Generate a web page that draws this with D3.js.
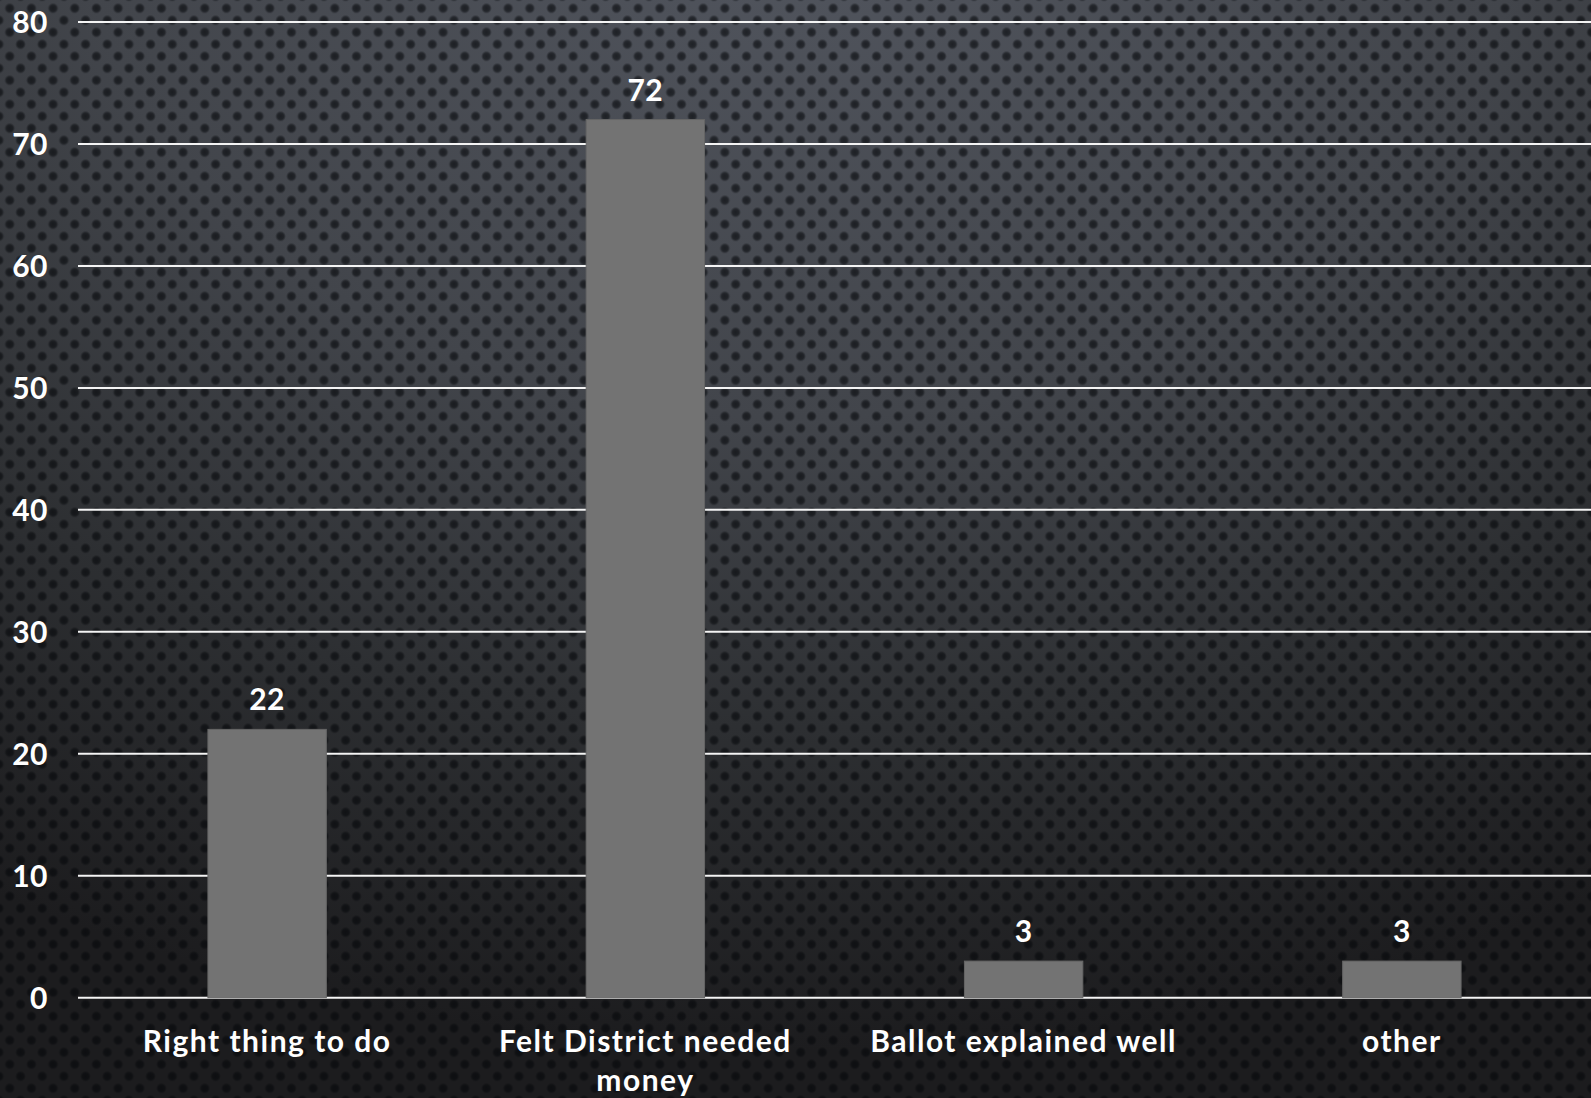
<!DOCTYPE html>
<html>
<head>
<meta charset="utf-8">
<script src="https://cdn.jsdelivr.net/npm/d3@7"></script>
<style>
  html, body { margin: 0; padding: 0; background: #1e1e20; overflow: hidden; }
  svg { display: block; }
  text { font-family: "Lato", "Noto Sans", sans-serif; font-weight: 700; fill: #ffffff; }
</style>
</head>
<body>
<div id="chart"></div>
<script>
// ---- data ----
const categories = ["Right thing to do", "Felt District needed money", "Ballot explained well", "other"];
const values = [22, 72, 3, 3];
const yTicks = [0, 10, 20, 30, 40, 50, 60, 70, 80];
const yMax = 80;

// ---- layout ----
const W = 1591, H = 1098;
const plot = { left: 78, right: 1591, top: 22, bottom: 997.7 };

const svg = d3.select("#chart").append("svg").attr("width", W).attr("height", H);
const defs = svg.append("defs");

// background gradient
const rg = defs.append("radialGradient")
  .attr("id", "bg").attr("gradientUnits", "userSpaceOnUse")
  .attr("cx", 800).attr("cy", -100).attr("r", 1150)
  .attr("gradientTransform", "translate(800,-100) scale(1.39,1) translate(-800,100)");
[[0, "#52565f"], [0.45, "#42454b"], [0.72, "#2d2f32"], [1, "#1c1c1e"]].forEach(([o, c]) =>
  rg.append("stop").attr("offset", o).attr("stop-color", c));

// dot gradient
const dg = defs.append("radialGradient").attr("id", "dot");
dg.append("stop").attr("offset", 0).attr("stop-color", "#05070a").attr("stop-opacity", 0.65);
dg.append("stop").attr("offset", 0.6).attr("stop-color", "#05070a").attr("stop-opacity", 0.55);
dg.append("stop").attr("offset", 1).attr("stop-color", "#05070a").attr("stop-opacity", 0);

const pw = 21.67, ph = 24;
const pat = defs.append("pattern").attr("id", "dots").attr("patternUnits", "userSpaceOnUse")
  .attr("x", 4.3).attr("y", 2.3).attr("width", pw).attr("height", ph);
[[pw / 4, ph / 4], [pw * 3 / 4, ph * 3 / 4]].forEach(([cx, cy]) =>
  pat.append("circle").attr("cx", cx).attr("cy", cy).attr("r", 5.4).attr("fill", "url(#dot)"));

svg.append("rect").attr("width", W).attr("height", H).attr("fill", "url(#bg)");
svg.append("rect").attr("width", W).attr("height", H).attr("fill", "url(#dots)");

// scales
const x = d3.scaleBand().domain(categories).range([plot.left, plot.right])
  .paddingInner(0.687).paddingOuter(0.3435);
const y = d3.scaleLinear().domain([0, yMax]).range([plot.bottom, plot.top]);

// gridlines
svg.append("g").selectAll("line").data(yTicks).join("line")
  .attr("x1", plot.left).attr("x2", plot.right)
  .attr("y1", d => y(d)).attr("y2", d => y(d))
  .attr("stroke", "#f4f4f4").attr("stroke-width", 2);

// y tick labels
svg.append("g").selectAll("text").data(yTicks).join("text")
  .attr("x", 48).attr("y", d => y(d)).attr("dy", "0.36em")
  .attr("text-anchor", "end").attr("font-size", 30).attr("letter-spacing", 0.5)
  .text(d => d);

// bars
svg.append("g").selectAll("rect").data(values).join("rect")
  .attr("x", (d, i) => x(categories[i]))
  .attr("width", x.bandwidth())
  .attr("y", d => y(d))
  .attr("height", d => y(0) - y(d))
  .attr("fill", "#737373")
  .attr("stroke", "#666").attr("stroke-width", 1);

// value labels
svg.append("g").selectAll("text").data(values).join("text")
  .attr("x", (d, i) => x(categories[i]) + x.bandwidth() / 2)
  .attr("y", d => y(d) - 19)
  .attr("text-anchor", "middle").attr("font-size", 30).attr("letter-spacing", 0.5)
  .text(d => d);

// category labels with wrapping
const maxW = 350;
const catG = svg.append("g");
categories.forEach(c => {
  const cx = x(c) + x.bandwidth() / 2;
  const t = catG.append("text")
    .attr("x", cx).attr("y", 1052)
    .attr("text-anchor", "middle").attr("font-size", 30).attr("letter-spacing", 1.5);
  const words = c.split(" ");
  let line = [];
  let ts = t.append("tspan").attr("x", cx).attr("dy", 0);
  words.forEach(w => {
    line.push(w);
    ts.text(line.join(" "));
    if (ts.node().getComputedTextLength() > maxW && line.length > 1) {
      line.pop();
      ts.text(line.join(" "));
      line = [w];
      ts = t.append("tspan").attr("x", cx).attr("dy", 38.5).text(w);
    }
  });
});
</script>
</body>
</html>
